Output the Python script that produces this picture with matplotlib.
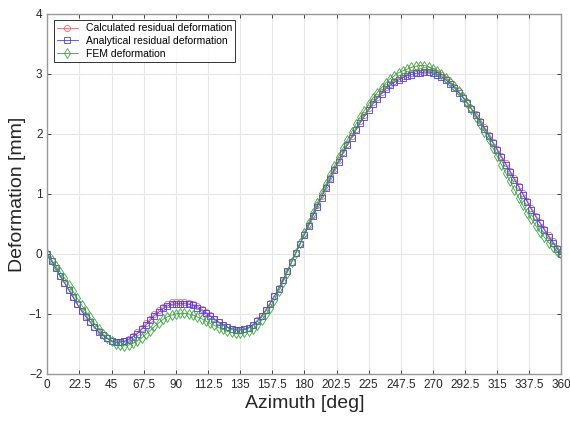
import numpy as np
import matplotlib.pyplot as plt

plt.rcParams["font.family"] = ["Liberation Sans", "DejaVu Sans"]

# azimuth sampled every 3 degrees, 0..360
azimuth = np.arange(0, 361, 3)

calculated = [
    0.00, -0.12, -0.24, -0.36, -0.48, -0.60, -0.72, -0.84, -0.95, -1.04,
    -1.13, -1.22, -1.29, -1.36, -1.41, -1.45, -1.47, -1.47, -1.45, -1.42,
    -1.37, -1.31, -1.24, -1.16, -1.08, -1.00, -0.94, -0.88, -0.84, -0.81,
    -0.80, -0.80, -0.80, -0.82, -0.84, -0.87, -0.92, -0.97, -1.02, -1.08,
    -1.13, -1.18, -1.22, -1.25, -1.27, -1.27, -1.26, -1.23, -1.18, -1.11,
    -1.03, -0.93, -0.82, -0.70, -0.57, -0.43, -0.28, -0.13, 0.02, 0.17,
    0.33, 0.49, 0.65, 0.81, 0.96, 1.12, 1.27, 1.42, 1.56, 1.70,
    1.84, 1.97, 2.09, 2.21, 2.32, 2.43, 2.53, 2.62, 2.70, 2.78,
    2.84, 2.89, 2.93, 2.97, 3.00, 3.02, 3.04, 3.05, 3.06, 3.06,
    3.05, 3.02, 2.98, 2.92, 2.86, 2.79, 2.71, 2.62, 2.53, 2.43,
    2.33, 2.22, 2.11, 1.99, 1.87, 1.75, 1.63, 1.51, 1.39, 1.27,
    1.14, 1.01, 0.89, 0.76, 0.64, 0.53, 0.42, 0.31, 0.21, 0.10,
    0.00,
]

analytical = [
    0.00, -0.12, -0.24, -0.36, -0.48, -0.60, -0.72, -0.84, -0.95, -1.05,
    -1.14, -1.22, -1.30, -1.36, -1.41, -1.45, -1.47, -1.47, -1.46, -1.43,
    -1.38, -1.33, -1.26, -1.19, -1.11, -1.03, -0.97, -0.91, -0.87, -0.84,
    -0.83, -0.83, -0.83, -0.84, -0.86, -0.90, -0.94, -0.99, -1.04, -1.09,
    -1.14, -1.18, -1.22, -1.25, -1.27, -1.27, -1.26, -1.23, -1.18, -1.12,
    -1.04, -0.94, -0.83, -0.71, -0.58, -0.44, -0.29, -0.14, 0.01, 0.16,
    0.32, 0.47, 0.63, 0.79, 0.94, 1.10, 1.25, 1.40, 1.54, 1.68,
    1.81, 1.94, 2.06, 2.18, 2.29, 2.40, 2.50, 2.59, 2.67, 2.75,
    2.81, 2.86, 2.90, 2.94, 2.97, 2.99, 3.01, 3.02, 3.03, 3.03,
    3.02, 2.99, 2.95, 2.90, 2.84, 2.77, 2.69, 2.60, 2.51, 2.41,
    2.31, 2.20, 2.09, 1.97, 1.85, 1.73, 1.61, 1.49, 1.37, 1.24,
    1.12, 0.99, 0.87, 0.74, 0.62, 0.51, 0.40, 0.29, 0.19, 0.09,
    0.00,
]

fem = [
    0.00, -0.10, -0.20, -0.30, -0.40, -0.51, -0.62, -0.74, -0.85, -0.96,
    -1.06, -1.16, -1.25, -1.33, -1.40, -1.46, -1.50, -1.52, -1.53, -1.52,
    -1.49, -1.45, -1.40, -1.34, -1.28, -1.21, -1.15, -1.09, -1.05, -1.02,
    -1.00, -0.99, -0.99, -1.00, -1.02, -1.05, -1.08, -1.12, -1.16, -1.19,
    -1.23, -1.26, -1.29, -1.31, -1.32, -1.32, -1.31, -1.29, -1.25, -1.19,
    -1.11, -1.01, -0.90, -0.77, -0.62, -0.47, -0.31, -0.14, 0.02, 0.18,
    0.35, 0.52, 0.68, 0.85, 1.01, 1.16, 1.32, 1.47, 1.62, 1.76,
    1.90, 2.03, 2.16, 2.28, 2.39, 2.50, 2.60, 2.69, 2.77, 2.85,
    2.92, 2.97, 3.02, 3.05, 3.08, 3.11, 3.13, 3.14, 3.14, 3.12,
    3.09, 3.05, 3.00, 2.94, 2.87, 2.80, 2.71, 2.62, 2.52, 2.41,
    2.29, 2.17, 2.04, 1.91, 1.77, 1.63, 1.49, 1.35, 1.21, 1.07,
    0.94, 0.81, 0.69, 0.58, 0.47, 0.37, 0.28, 0.19, 0.11, 0.05,
    0.00,
]

xticks = np.arange(0, 360.1, 22.5)
xticklabels = ["0", "22.5", "45", "67.5", "90", "112.5", "135", "157.5", "180",
               "202.5", "225", "247.5", "270", "292.5", "315", "337.5", "360"]

fig = plt.figure(figsize=(5.7, 4.22), dpi=100)
ax = fig.add_axes([0.083, 0.114, 0.902, 0.853])

style = dict(markerfacecolor="none", linewidth=0.6, markeredgewidth=0.6)
ax.plot(azimuth, calculated, color="#ff6060", marker="o", markersize=4.4,
        label="Calculated residual deformation", **style)
ax.plot(azimuth, analytical, color="#4040ff", marker="s", markersize=4.0,
        label="Analytical residual deformation", **style)
ax.plot(azimuth, fem, color="#3aa63a", marker="d", markersize=4.8,
        label="FEM deformation", **style)

ax.set_xlim(0, 360)
ax.set_ylim(-2, 4)
ax.set_xticks(xticks)
ax.set_xticklabels(xticklabels)
ax.set_yticks(range(-2, 5))
ax.grid(True, color="#e6e6e6", linewidth=0.8)
ax.set_axisbelow(True)
ax.tick_params(direction="in", top=True, right=True, labelsize=8.5,
               colors="#262626", length=3, width=0.6)
for s in ax.spines.values():
    s.set_color("#999999")
    s.set_linewidth(1.0)

ax.set_xlabel("Azimuth [deg]", fontsize=14, color="#262626", labelpad=3)
ax.set_ylabel("Deformation [mm]", fontsize=14, color="#262626", labelpad=2)

leg = ax.legend(loc="upper left", fontsize=7.5, frameon=True, fancybox=False,
                edgecolor="black", borderpad=0.3, labelspacing=0.25,
                handlelength=2.0, borderaxespad=0.6)
leg.get_frame().set_linewidth(0.7)

fig.savefig("out.png", dpi=100)
